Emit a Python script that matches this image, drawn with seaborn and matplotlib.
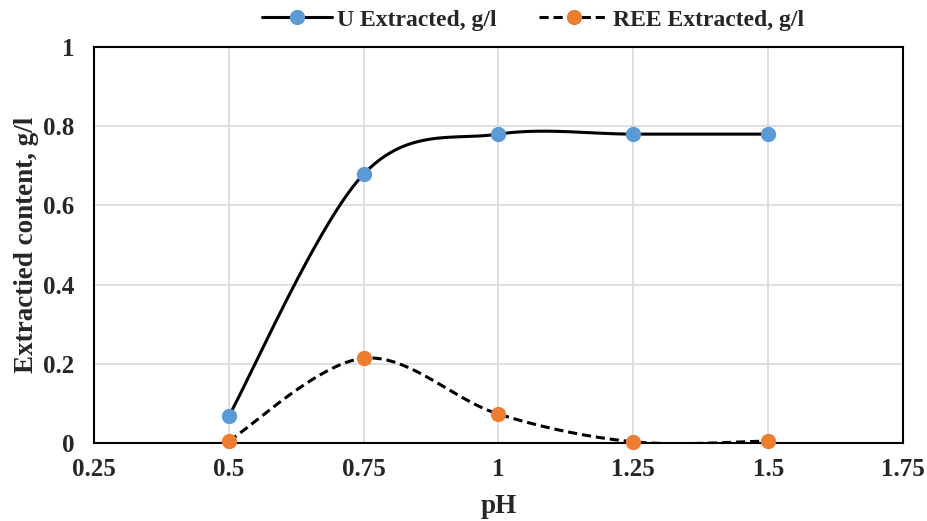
import matplotlib
matplotlib.use("Agg")
import matplotlib.pyplot as plt
from matplotlib.lines import Line2D
import numpy as np
import seaborn as sns

# data
ph = [0.5, 0.75, 1.0, 1.25, 1.5]
u_extracted = [0.068, 0.679, 0.780, 0.780, 0.780]
ree_extracted = [0.005, 0.214, 0.073, 0.003, 0.005]

x_ticks = [0.25, 0.5, 0.75, 1, 1.25, 1.5, 1.75]
x_tick_labels = ["0.25", "0.5", "0.75", "1", "1.25", "1.5", "1.75"]
y_ticks = [0, 0.2, 0.4, 0.6, 0.8, 1]
y_tick_labels = ["0", "0.2", "0.4", "0.6", "0.8", "1"]

BLUE = "#5B9BD5"
ORANGE = "#ED7D31"


def smooth(xs, ys, n=40):
    # Excel style smoothed line: cubic bezier with catmull-rom control points
    p = np.column_stack([xs, ys])
    pts = []
    for i in range(len(p) - 1):
        p0 = p[i - 1] if i > 0 else p[i]
        p1, p2 = p[i], p[i + 1]
        p3 = p[i + 2] if i + 2 < len(p) else p[i + 1]
        c1 = p1 + (p2 - p0) / 6
        c2 = p2 - (p3 - p1) / 6
        t = np.linspace(0, 1, n)[:, None]
        seg = ((1 - t) ** 3) * p1 + 3 * ((1 - t) ** 2) * t * c1 + 3 * (1 - t) * t ** 2 * c2 + t ** 3 * p2
        pts.append(seg if i == 0 else seg[1:])
    pts = np.vstack(pts)
    return pts[:, 0], pts[:, 1]


sns.set_style("white")
plt.rcParams["font.family"] = ["Liberation Serif", "DejaVu Serif"]
plt.rcParams["font.weight"] = "bold"

fig = plt.figure(figsize=(9.27, 5.21), dpi=100)
ax = fig.add_axes([0.1014, 0.1497, 0.8727, 0.7601])

ux, uy = smooth(ph, u_extracted)
rx, ry = smooth(ph, ree_extracted)

sns.lineplot(x=ux, y=uy, ax=ax, color="black", linewidth=2.2, sort=False, zorder=3)
sns.lineplot(x=rx, y=ry, ax=ax, color="black", linewidth=2.2, sort=False, zorder=3,
             linestyle=(0, (3, 1.6)))
ax.plot(ph, u_extracted, "o", color=BLUE, markersize=10, zorder=4, clip_on=False)
ax.plot(ph, ree_extracted, "o", color=ORANGE, markersize=10, zorder=4, clip_on=False)

ax.set_xlim(0.25, 1.75)
ax.set_ylim(0, 1)
ax.set_xticks(x_ticks)
ax.set_xticklabels(x_tick_labels)
ax.set_yticks(y_ticks)
ax.set_yticklabels(y_tick_labels)
ax.tick_params(axis="x", labelsize=18, length=0, pad=11)
ax.tick_params(axis="y", labelsize=18, length=0, pad=14)
for lab in ax.get_xticklabels() + ax.get_yticklabels():
    lab.set_fontweight("bold")

ax.grid(True, color="#D9D9D9", linewidth=1.2)
ax.set_axisbelow(True)
for s in ax.spines.values():
    s.set_visible(True)
    s.set_color("black")
    s.set_linewidth(1.5)

ax.set_xlabel("pH", fontsize=19.5, fontweight="bold", labelpad=9)
ax.set_ylabel("Extractied content, g/l", fontsize=19.5, fontweight="bold", labelpad=3)

handles = [
    Line2D([], [], color="black", linewidth=2.2, marker="o", markersize=10,
           markerfacecolor=BLUE, markeredgecolor=BLUE),
    Line2D([], [], color="black", linewidth=2.2, linestyle=(0, (3, 1.6)), marker="o",
           markersize=10, markerfacecolor=ORANGE, markeredgecolor=ORANGE),
]
fig.legend(handles, ["U Extracted, g/l", "REE Extracted, g/l"], loc="center",
           bbox_to_anchor=(0.5755, 0.962), ncol=2, frameon=False,
           prop={"size": 17, "weight": "bold"}, handlelength=2.95, columnspacing=1.8,
           handletextpad=0.2)

fig.savefig("out.png", dpi=100)
